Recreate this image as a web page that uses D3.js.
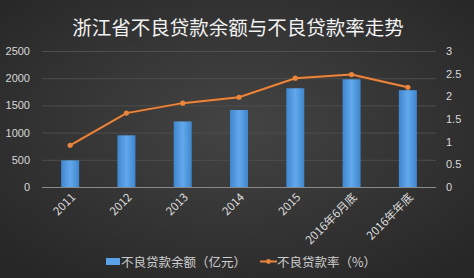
<!DOCTYPE html>
<html>
<head>
<meta charset="utf-8">
<script src="https://cdn.jsdelivr.net/npm/d3@7"></script>
<style>
  html, body { margin: 0; padding: 0; background: #333; }
  svg { display: block; font-family: "Noto Sans CJK SC", "Liberation Sans", sans-serif; }
</style>
</head>
<body>
<div id="chart"></div>
<script>
const categories = ['2011', '2012', '2013', '2014', '2015', '2016年6月底', '2016年年底']
const balance = [490, 950, 1205, 1415, 1815, 1980, 1780]   // 亿元
const ratio = [0.92, 1.63, 1.85, 1.98, 2.4, 2.48, 2.2]     // %
const leftTicks = [0, 500, 1000, 1500, 2000, 2500]
const rightTicks = [0, 0.5, 1, 1.5, 2, 2.5, 3]
const title = '浙江省不良贷款余额与不良贷款率走势'
const legendNames = ['不良贷款余额（亿元）', '不良贷款率（%）']

const W = 474, H = 278
const margin = { top: 51, right: 38, bottom: 91, left: 42 }

const svg = d3.select('#chart').append('svg')
    .attr('width', W)
    .attr('height', H)

const defs = svg.append('defs')
let bg = defs.append('radialGradient').attr('id', 'bg')
    .attr('cx', '50%').attr('cy', '45%').attr('r', '70%')
bg.append('stop').attr('offset', '0%').attr('stop-color', '#444444')
bg.append('stop').attr('offset', '100%').attr('stop-color', '#262626')

let barGrad = defs.append('linearGradient').attr('id', 'bar')
    .attr('x1', '0').attr('x2', '1').attr('y1', '0').attr('y2', '0')
barGrad.append('stop').attr('offset', '0%').attr('stop-color', '#3f86cf')
barGrad.append('stop').attr('offset', '50%').attr('stop-color', '#62a8ec')
barGrad.append('stop').attr('offset', '100%').attr('stop-color', '#3f86cf')

svg.append('rect').attr('width', W).attr('height', H).attr('fill', 'url(#bg)')

svg.append('text')
    .attr('x', W / 2 + 1)
    .attr('y', 35)
    .attr('text-anchor', 'middle')
    .attr('fill', '#f2f2f2')
    .style('font-size', '19.5px')
    .text(title)

const x = d3.scaleBand()
    .domain(categories)
    .range([margin.left, W - margin.right])
    .paddingInner(0.68)
    .paddingOuter(0.34)

const yL = d3.scaleLinear().domain([0, 2500]).range([H - margin.bottom, margin.top])
const yR = d3.scaleLinear().domain([0, 3]).range([H - margin.bottom, margin.top])

// grid lines
svg.append('g')
    .selectAll('line')
    .data(leftTicks.slice(1))
    .enter().append('line')
    .attr('x1', margin.left)
    .attr('x2', W - margin.right)
    .attr('y1', d => yL(d) + 0.5)
    .attr('y2', d => yL(d) + 0.5)
    .attr('stroke', '#4e4e4e')
    .attr('stroke-width', 1)

// bars
svg.append('g')
    .selectAll('rect')
    .data(balance)
    .enter().append('rect')
    .attr('x', (d, i) => x(categories[i]))
    .attr('width', x.bandwidth())
    .attr('y', d => yL(d))
    .attr('height', d => yL(0) - yL(d))
    .attr('fill', 'url(#bar)')

// baseline
svg.append('line')
    .attr('x1', margin.left)
    .attr('x2', W - margin.right)
    .attr('y1', yL(0) + 0.5)
    .attr('y2', yL(0) + 0.5)
    .attr('stroke', '#8a8a8a')

// left axis
let axisL = svg.append('g')
    .attr('transform', 'translate(' + (margin.left - 10) + ',0)')
    .call(d3.axisLeft(yL).tickValues(leftTicks).tickSize(0).tickPadding(2)
        .tickFormat(d3.format('d')))
axisL.select('.domain').remove()
axisL.selectAll('text').attr('fill', '#d8d8d8').style('font-size', '11px')

// right axis
let axisR = svg.append('g')
    .attr('transform', 'translate(' + (W - margin.right + 8) + ',0)')
    .call(d3.axisRight(yR).tickValues(rightTicks).tickSize(0).tickPadding(2)
        .tickFormat(d3.format('')))
axisR.select('.domain').remove()
axisR.selectAll('text').attr('fill', '#d8d8d8').style('font-size', '11px')

// x labels
svg.append('g')
    .selectAll('text')
    .data(categories)
    .enter().append('text')
    .attr('text-anchor', 'end')
    .attr('fill', '#dcdcdc')
    .style('font-size', '11.5px')
    .attr('transform', d => 'translate(' + (x(d) + x.bandwidth() / 2 + 6) + ',' + (yL(0) + 11) + ')rotate(-45)')
    .text(d => d)

// line
const line = d3.line()
    .x((d, i) => x(categories[i]) + x.bandwidth() / 2)
    .y(d => yR(d))

svg.append('path')
    .datum(ratio)
    .attr('d', line)
    .attr('fill', 'none')
    .attr('stroke', '#5a3a22')
    .attr('stroke-width', 3.5)
    .attr('opacity', 0.6)

svg.append('path')
    .datum(ratio)
    .attr('d', line)
    .attr('fill', 'none')
    .attr('stroke', '#e8853e')
    .attr('stroke-width', 2)

svg.append('g')
    .selectAll('circle')
    .data(ratio)
    .enter().append('circle')
    .attr('cx', (d, i) => x(categories[i]) + x.bandwidth() / 2)
    .attr('cy', d => yR(d))
    .attr('r', 2.6)
    .attr('fill', '#e8853e')

// legend
let legend = svg.append('g').attr('transform', 'translate(0,262)')
legend.append('rect')
    .attr('x', 106).attr('y', -4)
    .attr('width', 14).attr('height', 7)
    .attr('fill', '#5ba3e8')
legend.append('text')
    .attr('x', 121).attr('y', 4.5)
    .attr('fill', '#cfcfcf')
    .style('font-size', '12.5px')
    .text(legendNames[0])
legend.append('line')
    .attr('x1', 260).attr('x2', 277)
    .attr('y1', -0.5).attr('y2', -0.5)
    .attr('stroke', '#e8853e').attr('stroke-width', 2)
legend.append('circle')
    .attr('cx', 268.5).attr('cy', -0.5).attr('r', 2.4)
    .attr('fill', '#e8853e')
legend.append('text')
    .attr('x', 277).attr('y', 4.5)
    .attr('fill', '#cfcfcf')
    .style('font-size', '12.5px')
    .text(legendNames[1])
</script>
</body>
</html>
